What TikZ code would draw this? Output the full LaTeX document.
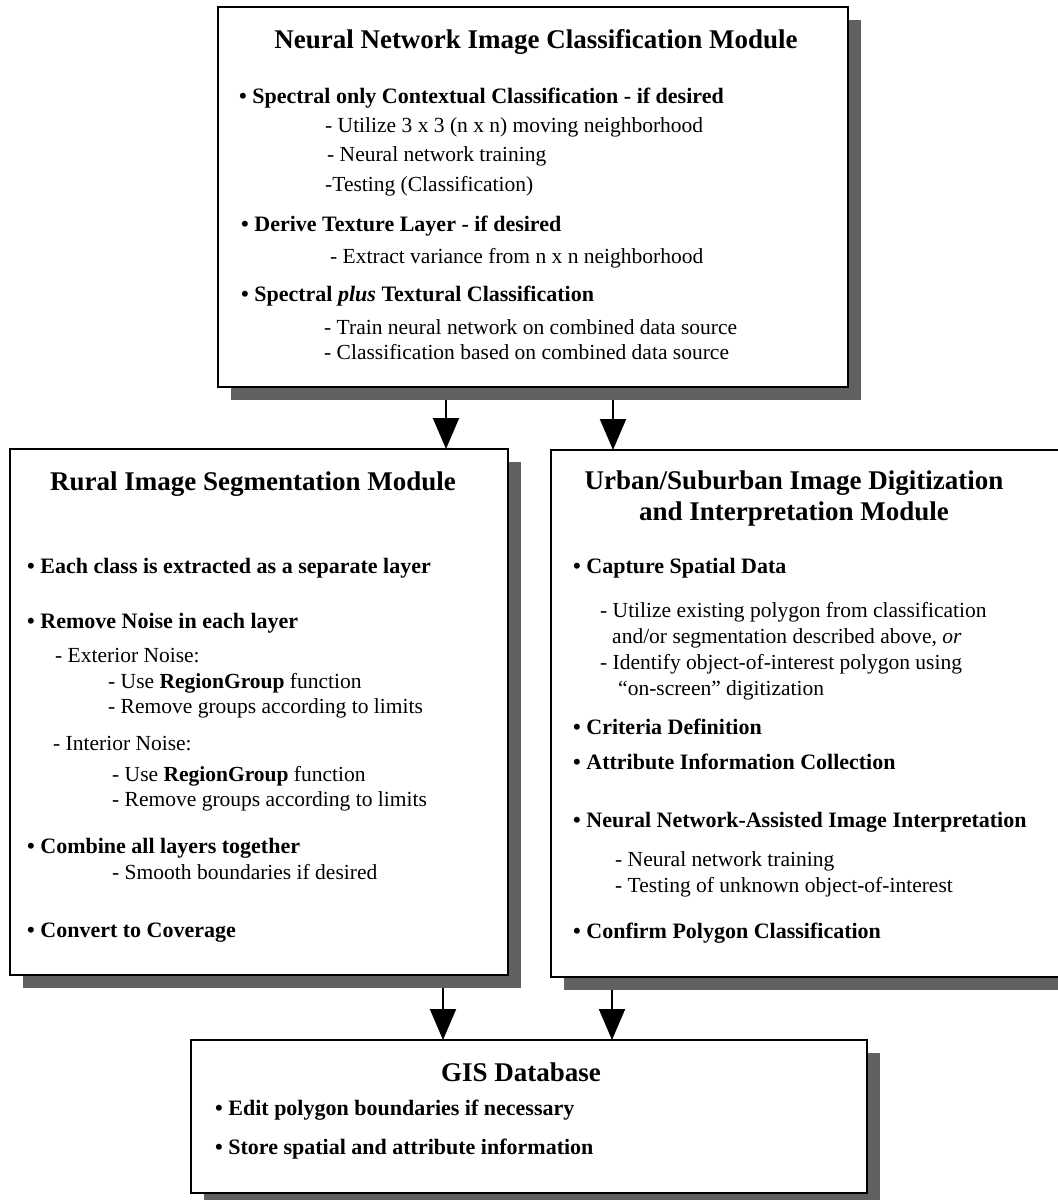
\documentclass[tikz,border=0pt]{standalone}
\usepackage{fontspec}
\setmainfont{Liberation Serif}
\usetikzlibrary{arrows.meta,shadows}
\begin{document}
\begin{tikzpicture}[x=1pt,y=-1pt,
  box/.style={draw, line width=2.2pt, fill=white, rectangle, inner sep=0pt, outer sep=0pt,
    drop shadow={shadow xshift=13pt, shadow yshift=-13pt, fill=black!62, opacity=1}},
  ttl/.style={anchor=base, inner sep=0pt, font=\bfseries\fontsize{27}{30}\selectfont},
  bl/.style={anchor=base west, inner sep=0pt, font=\bfseries\fontsize{22}{26}\selectfont},
  tx/.style={anchor=base west, inner sep=0pt, font=\fontsize{21.5}{26}\selectfont},
  arr/.style={line width=2pt, -{Triangle[width=26pt,length=31pt]}}]
\useasboundingbox (0,0) rectangle (1058,1200);
\clip (0,0) rectangle (1058,1200);

% boxes
\node[box, minimum width=630pt, minimum height=380pt] (top) at (533,197) {};
\node[box, minimum width=498pt, minimum height=526pt] (rural) at (259,712) {};
\node[box, minimum width=524pt, minimum height=527pt] (urban) at (813,713.5) {};
\node[box, minimum width=676pt, minimum height=153pt] (gis) at (529,1116.5) {};

% arrows
\coordinate (a1) at (446,400);
\coordinate (a2) at (613,400);
\coordinate (a3) at (443,988);
\coordinate (a4) at (612,990);
\draw[arr] (a1) -- (a1 |- rural.north);
\draw[arr] (a2) -- (a2 |- urban.north);
\draw[arr] (a3) -- (a3 |- gis.north);
\draw[arr] (a4) -- (a4 |- gis.north);

% top box text
\node[ttl] (n0) at (536,48) {Neural Network Image Classification Module};
\node[bl] (n1) at (239,103) {• Spectral only Contextual Classification - if desired};
\node[tx] (n2) at (325,132) {- Utilize 3 x 3 (n x n) moving neighborhood};
\node[tx] (n3) at (327,161) {- Neural network training};
\node[tx] (n4) at (325,191) {-Testing (Classification)};
\node[bl] (n5) at (241,231) {• Derive Texture Layer - if desired};
\node[tx] (n6) at (330,263) {- Extract variance from n x n neighborhood};
\node[bl] (n7) at (241,301) {• Spectral \textit{plus} Textural Classification};
\node[tx] (n8) at (324,334) {- Train neural network on combined data source};
\node[tx] (n9) at (324,359) {- Classification based on combined data source};

% rural box text
\node[ttl] (r0) at (253,490) {Rural Image Segmentation Module};
\node[bl] (r1) at (27,573) {• Each class is extracted as a separate layer};
\node[bl] (r2) at (27,628) {• Remove Noise in each layer};
\node[tx] (r3) at (55,662) {- Exterior Noise:};
\node[tx] (r4) at (108,688) {- Use \textbf{RegionGroup} function};
\node[tx] (r5) at (108,713) {- Remove groups according to limits};
\node[tx] (r6) at (53,750) {- Interior Noise:};
\node[tx] (r7) at (112,781) {- Use \textbf{RegionGroup} function};
\node[tx] (r8) at (112,806) {- Remove groups according to limits};
\node[bl] (r9) at (27,853) {• Combine all layers together};
\node[tx] (r10) at (112,879) {- Smooth boundaries if desired};
\node[bl] (r11) at (27,937) {• Convert to Coverage};

% urban box text
\node[ttl] (u0) at (794,489) {Urban/Suburban Image Digitization};
\node[ttl] (u1) at (794,520) {and Interpretation Module};
\node[bl] (u2) at (573,573) {• Capture Spatial Data};
\node[tx] (u3) at (600,617) {- Utilize existing polygon from classification};
\node[tx] (u4) at (612,643) {and/or segmentation described above, \textit{or}};
\node[tx] (u5) at (600,669) {- Identify object-of-interest polygon using};
\node[tx] (u6) at (618,695) {“on-screen” digitization};
\node[bl] (u7) at (573,734) {• Criteria Definition};
\node[bl] (u8) at (573,769) {• Attribute Information Collection};
\node[bl] (u9) at (573,827) {• Neural Network-Assisted Image Interpretation};
\node[tx] (u10) at (615,866) {- Neural network training};
\node[tx] (u11) at (615,892) {- Testing of unknown object-of-interest};
\node[bl] (u12) at (573,938) {• Confirm Polygon Classification};

% gis box text
\node[ttl] (g0) at (521,1081) {GIS Database};
\node[bl] (g1) at (215,1115) {• Edit polygon boundaries if necessary};
\node[bl] (g2) at (215,1154) {• Store spatial and attribute information};
\end{tikzpicture}
\end{document}
